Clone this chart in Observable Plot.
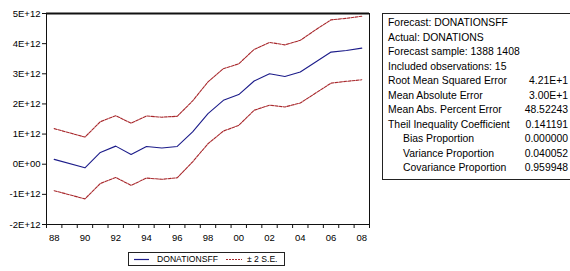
<!DOCTYPE html>
<html>
<head>
<meta charset="utf-8">
<script src="https://cdn.jsdelivr.net/npm/d3@7"></script>
<script src="https://cdn.jsdelivr.net/npm/@observablehq/plot@0.6"></script>
<style>
  html, body { margin: 0; padding: 0; background: #fff; width: 570px; height: 271px; overflow: hidden; }
  #wrap { position: relative; width: 570px; height: 271px; font-family: "Liberation Sans", Arial, sans-serif; }
  #stats { position: absolute; left: 382px; top: 13px; width: 188px; height: 163px; border: 1px solid #222; border-right: none; background: #fff; padding-top: 2px; font-size: 10.4px; color: #000; }
  .row { display: flex; justify-content: space-between; height: 14.5px; line-height: 14.5px; padding-left: 5px; padding-right: 3px; white-space: nowrap; }
  .row.ind { padding-left: 20px; }
  #legend { position: absolute; left: 128px; top: 252px; width: 155px; height: 12px; border: 1px solid #222; font-size: 8.6px; white-space: nowrap; }
  #legend .it { position: absolute; top: 0; height: 12px; line-height: 12px; }
</style>
</head>
<body>
<div id="wrap">
  <div id="chart"></div>
  <div id="stats"></div>
  <div id="legend"></div>
</div>
<script>
// ---- data ----
const years    = [1388, 1390, 1391, 1392, 1393, 1394, 1395, 1396, 1397, 1398, 1399, 1400, 1401, 1402, 1403, 1404, 1405, 1406, 1407, 1408];
const forecast = [0.16, -0.12, 0.39, 0.60, 0.32, 0.59, 0.54, 0.59, 1.07, 1.68, 2.12, 2.31, 2.76, 3.00, 2.91, 3.06, 3.39, 3.72, 3.77, 3.85];
const upper    = [1.18, 0.90, 1.41, 1.61, 1.36, 1.60, 1.56, 1.59, 2.10, 2.73, 3.17, 3.33, 3.81, 4.04, 3.96, 4.11, 4.46, 4.79, 4.84, 4.91];
const lower    = [-0.88, -1.15, -0.64, -0.44, -0.70, -0.46, -0.50, -0.45, 0.08, 0.68, 1.10, 1.29, 1.79, 1.96, 1.90, 2.03, 2.36, 2.69, 2.75, 2.80];
const unit = 1e12;
const yTicks = [-2, -1, 0, 1, 2, 3, 4, 5];
const xLabelYears = [1388, 1390, 1392, 1394, 1396, 1398, 1400, 1402, 1404, 1406, 1408];
const xBoundaries = [1387.5,1388.5,1389.5,1390.5,1391.5,1392.5,1393.5,1394.5,1395.5,1396.5,1397.5,1398.5,1399.5,1400.5,1401.5,1402.5,1403.5,1404.5,1405.5,1406.5,1407.5,1408.5];

const statLabels = ["Forecast: DONATIONSFF", "Actual: DONATIONS", "Forecast sample: 1388 1408", "Included observations: 15",
  "Root Mean Squared Error", "Mean Absolute Error", "Mean Abs. Percent Error", "Theil Inequality Coefficient",
  "Bias Proportion", "Variance Proportion", "Covariance Proportion"];
const statValues = ["", "", "", "", "4.21E+1", "3.00E+1", "48.52243", "0.141191", "0.000000", "0.040052", "0.959948"];
const statIndent = [false, false, false, false, false, false, false, false, true, true, true];

const seriesNames = ["DONATIONSFF", "± 2 S.E."];

// ---- build ----
const navy = "#1c1c8a";
const red = "#a8282c";
const toRows = (vals) => years.map((yr, i) => ({year: yr, v: vals[i] * unit}));
const fmt = (v) => v === 0 ? "0E+00" : `${Math.round(v / unit)}E+12`;

const chart = Plot.plot({
  width: 570,
  height: 271,
  marginLeft: 46,
  marginRight: 201,
  marginTop: 13,
  marginBottom: 47,
  x: {domain: [1387.5, 1408.5], label: null},
  y: {domain: [-2 * unit, 5 * unit], label: null},
  style: {fontFamily: "'Liberation Sans', Arial, sans-serif", fontSize: "9.5px", color: "#000", background: "transparent"},
  marks: [
    Plot.frame({stroke: "#111", strokeWidth: 1}),
    Plot.ruleY([5 * unit], {stroke: "#111", strokeWidth: 2}),
    Plot.axisY(yTicks.map(t => t * unit), {tickFormat: fmt, tickSize: 4, tickPadding: 2, label: null, stroke: "#111"}),
    Plot.axisX(xBoundaries, {tickFormat: () => "", tickSize: 4, label: null, stroke: "#111"}),
    Plot.axisX(xLabelYears, {tickSize: 0, tickPadding: 10, tickFormat: d => String(d % 100).padStart(2, "0"), label: null}),
    Plot.line(toRows(upper), {x: "year", y: "v", stroke: red, strokeWidth: 1.1, strokeDasharray: "3,1.2"}),
    Plot.line(toRows(lower), {x: "year", y: "v", stroke: red, strokeWidth: 1.1, strokeDasharray: "3,1.2"}),
    Plot.line(toRows(forecast), {x: "year", y: "v", stroke: navy, strokeWidth: 1.1})
  ]
});
document.getElementById("chart").appendChild(chart);

// stats box
const stats = document.getElementById("stats");
statLabels.forEach((lab, i) => {
  const row = document.createElement("div");
  row.className = "row" + (statIndent[i] ? " ind" : "");
  const a = document.createElement("span"); a.textContent = lab;
  const b = document.createElement("span"); b.textContent = statValues[i];
  row.appendChild(a); row.appendChild(b);
  stats.appendChild(row);
});

// legend
const legend = document.getElementById("legend");
legend.innerHTML =
  `<svg class="it" style="left:5px" width="16" height="12"><line x1="0" y1="6.5" x2="15" y2="6.5" stroke="${navy}" stroke-width="1.2"/></svg>` +
  `<span class="it" style="left:28px"></span>` +
  `<svg class="it" style="left:97px" width="18" height="12"><line x1="0" y1="6.5" x2="16" y2="6.5" stroke="${red}" stroke-width="1.2" stroke-dasharray="2,1"/></svg>` +
  `<span class="it" style="left:118px"></span>`;
const spans = legend.querySelectorAll("span");
spans[0].textContent = seriesNames[0];
spans[1].textContent = seriesNames[1];
</script>
</body>
</html>
